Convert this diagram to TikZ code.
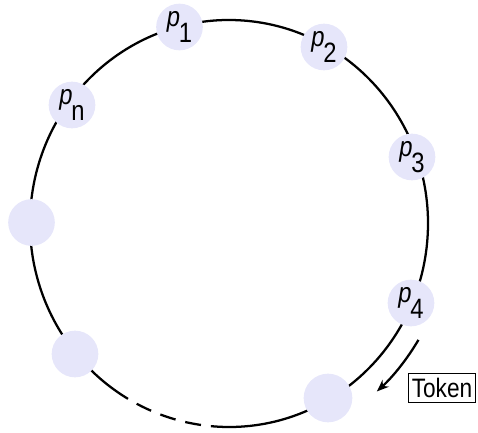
\documentclass[tikz,border=0pt]{standalone}
\usepackage{fontspec}
\setmainfont{Liberation Sans}[FakeStretch=0.85]
\usetikzlibrary{arrows.meta}

\definecolor{ProcFill}{RGB}{230,230,250}
\newcommand{\procname}[1]{\textit{p}\kern-1pt\raisebox{-0.58em}{#1}}

\begin{document}
\begin{tikzpicture}[x=0.75pt,y=0.75pt,font=\fontsize{20}{22}\selectfont,
  ring/.style={line width=1.7pt},
  proc/.style={circle,fill=ProcFill,inner sep=0pt,minimum size=35pt,font=\fontsize{21}{23}\selectfont},
  tokenbox/.style={draw,line width=1.1pt,inner sep=0pt,minimum width=50.5pt,minimum height=22pt}]
  \useasboundingbox (0,0) rectangle (478,432);
  \coordinate (ctr) at (229,208.5);

  % the ring, with its gap drawn dashed
  \draw[ring] (ctr) ++(266:199 and 203.5)
    arc[start angle=266,end angle=599.5,x radius=199,y radius=203.5];
  \draw[ring,dash pattern=on 12pt off 7.5pt,dash phase=12pt] (ctr) ++(239.5:199 and 203.5)
    arc[start angle=239.5,end angle=266,x radius=199,y radius=203.5];

  \node[proc] (p1) at (179.5,405) {\procname{1}};
  \node[proc] (p2) at (324,385) {\procname{2}};
  \node[proc] (p3) at (412,275) {\procname{3}};
  \node[proc] (p4) at (411,129) {\procname{4}};
  \node[proc,minimum size=36.5pt] (q5) at (328,34) {};
  \node[proc] (q6) at (75,78) {};
  \node[proc] (q7) at (31.5,209.5) {};
  \node[proc] (pn) at (72,327) {\procname{n}};

  \node[tokenbox] (tok) at (442,44) {Token};
  \draw[ring,-{Stealth[length=9pt,width=7pt]}] (ctr) ++(-31:221 and 226)
    arc[start angle=-31,end angle=-48,x radius=221,y radius=226];
\end{tikzpicture}
\end{document}
